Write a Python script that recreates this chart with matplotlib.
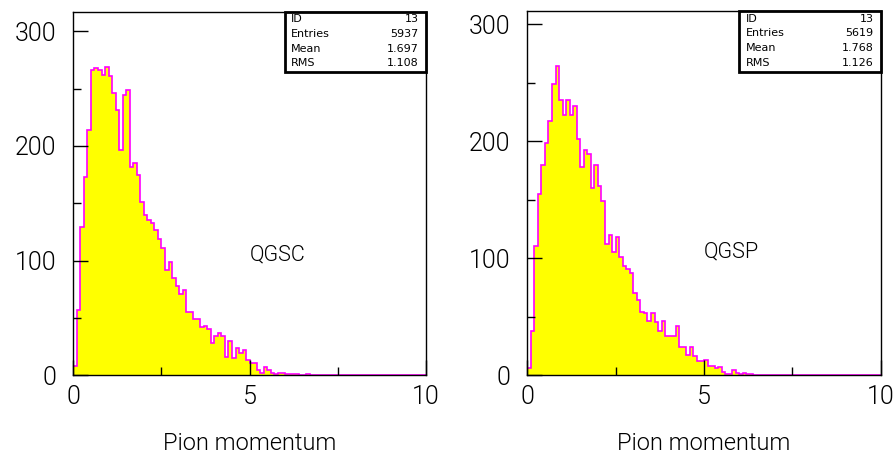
import numpy as np
import matplotlib
matplotlib.use("Agg")
import matplotlib.pyplot as plt
from matplotlib.patches import Rectangle

plt.rcParams['font.family'] = ['Roboto', 'DejaVu Sans']
plt.rcParams['font.weight'] = 300

# bin edges: 100 bins from 0 to 10
edges = np.linspace(0, 10, 101)

# QGSC counts per bin, remaining bins are empty
qgsc = [8, 57, 129, 173, 214, 266, 268, 266, 262, 269,
        261, 246, 231, 196, 244, 249, 182, 185, 175, 151,
        140, 135, 133, 127, 119, 111, 92, 99, 85, 78,
        71, 74, 55, 55, 49, 49, 42, 43, 40, 28,
        34, 37, 34, 16, 30, 15, 24, 19, 22, 13,
        11, 11, 5, 2, 7, 5, 2, 1, 2, 2,
        1, 1, 1, 1, 0, 0, 1]

# QGSP counts per bin
qgsp = [6, 38, 110, 155, 180, 198, 217, 249, 264, 235,
        222, 235, 222, 230, 202, 178, 192, 189, 160, 180,
        162, 149, 112, 120, 105, 118, 101, 93, 91, 87,
        70, 64, 54, 53, 46, 53, 45, 38, 46, 33,
        33, 33, 42, 24, 24, 17, 24, 16, 12, 12,
        13, 8, 8, 6, 7, 3, 1, 1, 4, 2,
        1, 2, 1, 1]

labels = ["QGSC", "QGSP"]
stats_names = ["ID", "Entries", "Mean", "RMS"]
stats_qgsc = ["13", "5937", "1.697", "1.108"]
stats_qgsp = ["13", "5619", "1.768", "1.126"]
ymax = [316.7, 311]

fig = plt.figure(figsize=(8.94, 4.58), dpi=100)
axes = [fig.add_axes([0.082, 0.1806, 0.3945, 0.7932]),
        fig.add_axes([0.5898, 0.1812, 0.3953, 0.7941])]

for ax, counts, name, svals, ym in zip(axes, [qgsc, qgsp], labels,
                                        [stats_qgsc, stats_qgsp], ymax):
    vals = np.zeros(100)
    vals[:len(counts)] = counts
    ax.stairs(vals, edges, fill=True, color="#ffff00", baseline=0)
    ax.stairs(vals, edges, color="#ff00ff", lw=1.2, baseline=0)

    ax.set_xlim(0, 10)
    ax.set_ylim(0, ym)
    ax.set_xticks([0, 5, 10])
    ax.set_xticks([2.5, 7.5], minor=True)
    ax.set_yticks([0, 100, 200, 300])
    ax.set_yticks([50, 150, 250], minor=True)
    ax.tick_params(which="both", direction="in", top=False, right=False,
                   labelsize=18, width=1)
    ax.tick_params(which="major", length=11)
    ax.tick_params(which="minor", length=6)
    ax.tick_params(axis="y", pad=12)
    ax.tick_params(axis="x", pad=7)
    for s in ax.spines.values():
        s.set_linewidth(1)

    ax.text(0.5, -0.189, "Pion momentum", transform=ax.transAxes,
            ha="center", va="center", fontsize=17)
    ax.text(5.0, 105, name, ha="left", va="center", fontsize=15.5)

    # stats box
    ax.add_patch(Rectangle((0.6, 0.834), 0.4, 0.166, transform=ax.transAxes,
                           fill=True, facecolor="white", edgecolor="black",
                           lw=2, clip_on=False, zorder=5))
    for i, (n, v) in enumerate(zip(stats_names, svals)):
        yy = 0.98 - i * 0.0405
        ax.text(0.618, yy, n, transform=ax.transAxes, fontsize=8,
                family="DejaVu Sans", fontweight="normal",
                ha="left", va="center", zorder=6)
        ax.text(0.98, yy, v, transform=ax.transAxes, fontsize=8,
                family="DejaVu Sans", fontweight="normal",
                ha="right", va="center", zorder=6)

fig.savefig("out.png", dpi=100)
